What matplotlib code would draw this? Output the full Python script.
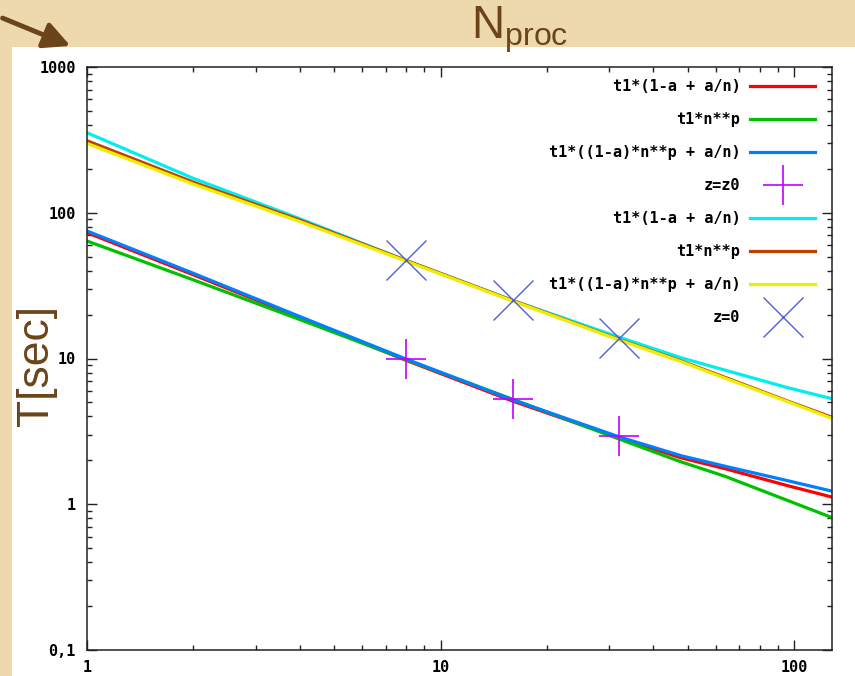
import matplotlib
matplotlib.use("Agg")
import matplotlib.pyplot as plt
from matplotlib.patches import Rectangle, FancyArrowPatch

# processor counts where the curves were sampled
n_proc = [1, 2, 4, 8, 16, 32, 48, 64, 96, 128]

# first data set (z = z0)
amdahl_z0 = [73, 37.5, 19.1, 9.7, 5.1, 2.85, 2.08, 1.75, 1.34, 1.12]
power_z0 = [64, 34.6, 18.5, 9.8, 5.25, 2.8, 1.95, 1.55, 1.06, 0.81]
mixed_z0 = [75, 38.4, 19.4, 9.9, 5.2, 2.9, 2.15, 1.82, 1.45, 1.23]
meas_n_z0 = [8, 16, 32]
meas_t_z0 = [10.0, 5.27, 2.93]

# second data set (z = 0)
amdahl_z = [354, 172, 91, 47, 25, 14, 10.1, 8.3, 6.3, 5.3]
power_z = [312, 162, 89, 47, 25, 13.5, 9.6, 7.4, 5.1, 3.95]
mixed_z = [299, 157, 87, 46.5, 24.8, 13.4, 9.5, 7.3, 5.05, 3.88]
meas_n_z = [8, 16, 32]
meas_t_z = [47.4, 25.2, 13.8]

legend_labels = ["t1*(1-a + a/n)", "t1*n**p", "t1*((1-a)*n**p + a/n)", "z=z0",
                 "t1*(1-a + a/n)", "t1*n**p", "t1*((1-a)*n**p + a/n)", "z=0"]

y_ticks = [0.1, 1, 10, 100, 1000]
y_tick_labels = ["0,1", "1", "10", "100", "1000"]
x_ticks = [1, 10, 100]
x_tick_labels = ["1", "10", "100"]

W, H = 855, 676
fig = plt.figure(figsize=(W / 100, H / 100), dpi=100)
fig.patch.set_facecolor("#EED9AE")

# white slide panel behind the plot
fig.patches.append(Rectangle((12 / W, 0), 1 - 12 / W, 1 - 47 / H,
                             transform=fig.transFigure, facecolor="white",
                             edgecolor="none", zorder=-5))

ax = fig.add_axes([87 / W, 26 / H, 745 / W, 583 / H])
ax.set_zorder(1)
ax.set_xscale("log")
ax.set_yscale("log")
ax.set_xlim(1, 128)
ax.set_ylim(0.1, 1000)

lw = 2.3
ax.plot(n_proc, amdahl_z0, color="#FF0000", lw=lw, label=legend_labels[0])
ax.plot(n_proc, power_z0, color="#00C000", lw=lw, label=legend_labels[1])
ax.plot(n_proc, mixed_z0, color="#0080FF", lw=lw, label=legend_labels[2])
ax.plot(meas_n_z0, meas_t_z0, ls="none", marker="+", ms=29, mew=1.2,
        color="#C000FF", label=legend_labels[3])
ax.plot(n_proc, amdahl_z, color="#00EEEE", lw=lw, label=legend_labels[4])
ax.plot(n_proc, power_z, color="#C04000", lw=lw, label=legend_labels[5])
ax.plot(n_proc, mixed_z, color="#EEEE00", lw=lw, label=legend_labels[6])
ax.plot(meas_n_z, meas_t_z, ls="none", marker="x", ms=29, mew=1.0,
        color="#5060D0", label=legend_labels[7])

mono = {"family": "DejaVu Sans Mono", "weight": "bold", "size": 11}
ax.set_yticks(y_ticks)
ax.set_yticklabels(y_tick_labels, fontdict=mono)
ax.set_xticks(x_ticks)
ax.set_xticklabels(x_tick_labels, fontdict=mono)
ax.tick_params(which="both", direction="in", top=True, right=True, width=1,
               color="#222222")
ax.tick_params(which="major", length=7)
ax.tick_params(which="minor", length=3.5)
ax.tick_params(axis="y", which="major", pad=8)
ax.tick_params(axis="x", which="major", pad=7)
for s in ax.spines.values():
    s.set_linewidth(1.1)
    s.set_color("#222222")

leg = ax.legend(loc="upper right", bbox_to_anchor=(1.0, 1.008), frameon=False,
                markerfirst=False,
                prop={"family": "DejaVu Sans Mono", "weight": "bold", "size": 11},
                handlelength=4.25, handletextpad=0.65, labelspacing=1.18,
                borderaxespad=0.5, borderpad=0.6)

brown = "#6B4419"
fig.text(36 / W, 1 - 366 / H, "T[sec]", rotation=90, ha="center", va="center",
         color=brown, fontsize=32, family="Liberation Sans", zorder=3)
fig.text(520 / W, 1 - 30 / H, r"$\mathregular{N_{proc}}$", ha="center",
         va="center", color=brown, fontsize=33, family="Liberation Sans",
         zorder=3)

fig.patches.append(FancyArrowPatch((0, 1 - 17 / H), (73 / W, 1 - 47 / H),
                                   transform=fig.transFigure, color=brown,
                                   arrowstyle="-|>,head_length=10,head_width=5",
                                   lw=3.5, mutation_scale=1.6, zorder=5))

fig.savefig("out.png", dpi=100)
